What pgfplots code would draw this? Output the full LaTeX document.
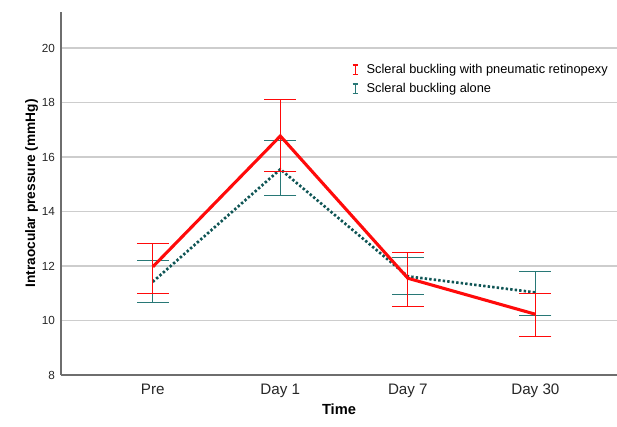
\documentclass[border=0pt]{standalone}
\usepackage{pgfplots}
\pgfplotsset{compat=1.18}
\usepackage{pgfplotstable}
\usepackage{fontspec}
\setmainfont{Liberation Sans}
\definecolor{myred}{RGB}{255,10,10}
\definecolor{tealbar}{RGB}{40,120,118}
\definecolor{tealline}{RGB}{15,85,85}
\definecolor{gridc}{RGB}{205,205,205}
\definecolor{axc}{RGB}{110,110,110}
\pgfplotstableread{
x y ep em
0 11.97 0.86 0.97
1 16.77 1.35 1.31
2 11.55 0.94 1.02
3 10.23 0.77 0.80
}\redtab
\pgfplotstableread{
x y ep em
0 11.42 0.80 0.77
1 15.55 1.04 0.97
2 11.62 0.70 0.68
3 11.03 0.76 0.83
}\tealtab
\begin{document}
\begin{tikzpicture}
\begin{axis}[
  scale only axis,
  width=417pt, height=272.25pt,
  xmin=-0.72, xmax=3.64,
  ymin=8, ymax=21.32,
  axis lines*=left,
  axis line style={axc, line width=0.8pt},
  xtick={0,1,2,3},
  xticklabels={Pre,Day 1,Day 7,Day 30},
  ytick={8,10,...,20},
  major tick length=0pt,
  ymajorgrids,
  grid style={gridc, line width=1.1pt},
  tick label style={text=black!85},
  xticklabel style={font=\fontsize{11.4}{13}\selectfont, yshift=-3pt},
  yticklabel style={font=\fontsize{8.8}{10}\selectfont, xshift=-1pt},
  /pgf/number format/assume math mode=true,
  xlabel={\textbf{Time}},
  ylabel={\textbf{Intraocular pressure (mmHg)}},
  xlabel style={font=\fontsize{11}{13}\selectfont, yshift=2pt},
  ylabel style={font=\fontsize{10.3}{12}\selectfont, yshift=-4pt},
  legend style={at={(axis description cs:0.518,0.872)}, anchor=north west,
    draw=none, fill=white, font=\fontsize{9.6}{11.5}\selectfont,
    row sep=1.8pt, inner sep=2pt},
  legend cell align=left,
  clip=false,
]
\addplot[forget plot, tealline, line width=2pt, dash pattern=on 1.8pt off 1.6pt,
  error bars/.cd, y dir=both, y explicit,
  error bar style={tealbar, line width=0.7pt, solid},
  error mark options={rotate=90, mark size=12pt, tealbar, line width=0.7pt, solid}]
  table[x=x, y=y, y error plus=ep, y error minus=em] {\tealtab};
\addplot[forget plot, myred, line width=2.3pt,
  error bars/.cd, y dir=both, y explicit,
  error bar style={myred, line width=0.6pt},
  error mark options={rotate=90, mark size=12pt, myred, line width=0.6pt}]
  table[x=x, y=y, y error plus=ep, y error minus=em] {\redtab};
\addlegendimage{legend image code/.code={
  \draw[draw=myred, line width=1.1pt] (0cm,-0.12cm) -- (0cm,0.12cm);
  \draw[draw=myred, line width=1.1pt] (-0.07cm,-0.12cm) -- (0.07cm,-0.12cm);
  \draw[draw=myred, line width=1.1pt] (-0.07cm,0.12cm) -- (0.07cm,0.12cm);
  \path (0.22cm,0cm);}}
\addlegendentry{Scleral buckling with pneumatic retinopexy}
\addlegendimage{legend image code/.code={
  \draw[draw=tealbar, line width=1.1pt] (0cm,-0.12cm) -- (0cm,0.12cm);
  \draw[draw=tealbar, line width=1.1pt] (-0.07cm,-0.12cm) -- (0.07cm,-0.12cm);
  \draw[draw=tealbar, line width=1.1pt] (-0.07cm,0.12cm) -- (0.07cm,0.12cm);
  \path (0.22cm,0cm);}}
\addlegendentry{Scleral buckling alone}
\end{axis}
\pgfresetboundingbox
\path ([shift={(-45.75pt,-38.25pt)}]current axis.south west) rectangle ([shift={(0pt,9pt)}]current axis.north east);
\end{tikzpicture}
\end{document}
